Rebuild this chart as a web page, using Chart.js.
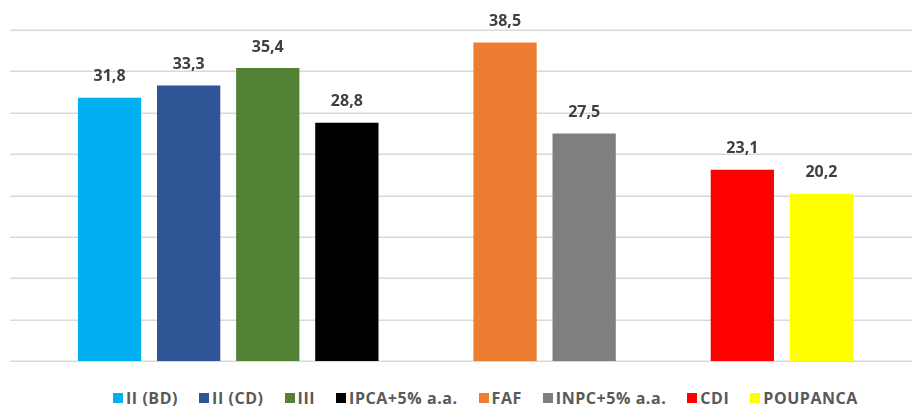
<!DOCTYPE html>
<html>
<head>
<meta charset="utf-8">
<script src="https://cdn.jsdelivr.net/npm/chart.js@4.4.1/dist/chart.umd.min.js"></script>
<style>
  html, body { margin: 0; padding: 0; background: #ffffff; }
  #wrap { width: 912px; height: 412px; position: relative; overflow: hidden; }
  #c { position: absolute; left: 0; top: 0; }
  #legend {
    position: absolute; left: 113px; width: 799px; top: 388px; height: 20px;
    display: flex; justify-content: flex-start; align-items: center; gap: 21px;
    font-family: 'Open Sans', 'Noto Sans', sans-serif; font-size: 16px; font-weight: 700;
    letter-spacing: 0.55px; color: #595959; white-space: nowrap;
  }
  .item { display: flex; align-items: center; }
  .box { width: 10px; height: 10px; margin-right: 3px; display: inline-block; }
</style>
</head>
<body>
<div id="wrap">
  <canvas id="c" width="912" height="380"></canvas>
  <div id="legend"></div>
</div>
<script>
// Categories (blank entries are the empty gaps between groups)
const categories = ['II (BD)', 'II (CD)', 'III', 'IPCA+5% a.a.', '', 'FAF', 'INPC+5% a.a.', '', 'CDI', 'POUPANCA'];
const values = [31.8, 33.3, 35.4, 28.8, null, 38.5, 27.5, null, 23.1, 20.2];
const colors = ['#00B0F0', '#2F5597', '#548235', '#000000', '#FFFFFF', '#ED7D31', '#7F7F7F', '#FFFFFF', '#FF0000', '#FFFF00'];
const yTicks = [0, 5, 10, 15, 20, 25, 30, 35, 40];

const FONT = "'Open Sans', 'Noto Sans', sans-serif";

const fullGrid = {
  id: 'fullGrid',
  beforeDatasetsDraw(chart) {
    const ctx = chart.ctx;
    const y = chart.scales.y;
    ctx.save();
    ctx.strokeStyle = '#d9d9d9';
    ctx.lineWidth = 1.5;
    yTicks.forEach(v => {
      const py = Math.round(y.getPixelForValue(v)) + 0.25;
      ctx.beginPath();
      ctx.moveTo(10, py);
      ctx.lineTo(chart.width, py);
      ctx.stroke();
    });
    ctx.restore();
  }
};

const valueLabels = {
  id: 'valueLabels',
  afterDatasetsDraw(chart) {
    const ctx = chart.ctx;
    const meta = chart.getDatasetMeta(0);
    ctx.save();
    ctx.font = "bold 16px " + FONT;
    ctx.fillStyle = '#404040';
    ctx.textAlign = 'center';
    ctx.textBaseline = 'middle';
    meta.data.forEach((bar, i) => {
      const v = values[i];
      if (v === null) return;
      ctx.fillText(v.toFixed(1).replace('.', ','), bar.x, bar.y - 21);
    });
    ctx.restore();
  }
};

new Chart(document.getElementById('c'), {
  type: 'bar',
  data: {
    labels: categories,
    datasets: [{
      data: values,
      backgroundColor: colors,
      borderWidth: 0,
      categoryPercentage: 1.0,
      barPercentage: 0.8
    }]
  },
  options: {
    responsive: false,
    animation: false,
    devicePixelRatio: 1,
    layout: { padding: { left: 70, right: 51, top: 30, bottom: 19 } },
    scales: {
      x: { display: false },
      y: {
        display: false,
        min: 0,
        max: 40,
        ticks: { stepSize: 5 }
      }
    },
    plugins: {
      tooltip: { enabled: false },
      legend: { display: false }
    }
  },
  plugins: [fullGrid, valueLabels]
});

// Legend built from the same categories / colours
const legend = document.getElementById('legend');
categories.forEach((c, i) => {
  if (c === '') return;
  const item = document.createElement('span');
  item.className = 'item';
  const box = document.createElement('span');
  box.className = 'box';
  box.style.background = colors[i];
  const txt = document.createElement('span');
  txt.textContent = c;
  item.appendChild(box);
  item.appendChild(txt);
  legend.appendChild(item);
});
</script>
</body>
</html>
